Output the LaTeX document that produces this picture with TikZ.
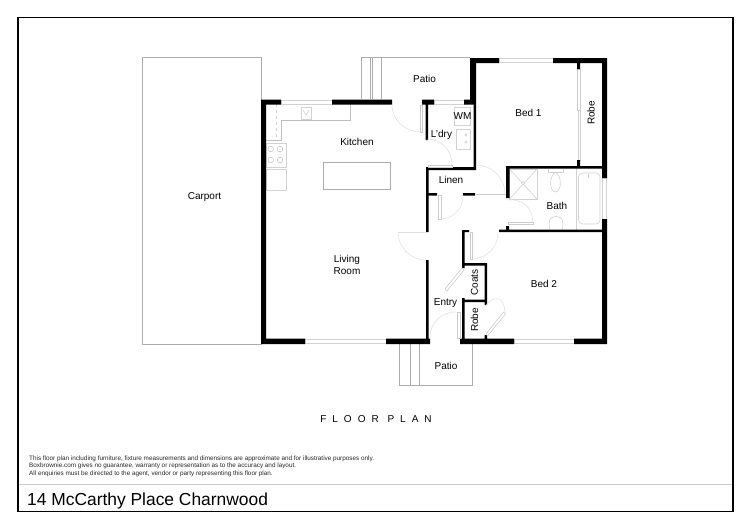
\documentclass[tikz,border=0pt]{standalone}
\usepackage{fontspec}
\setmainfont{Liberation Sans}
\newcommand\qarc[6]{\draw[doorarc] (#1,#2) .. controls ({#1+.552*(#3-#5)},{#2+.552*(#4-#6)}) and ({#3+.552*(#1-#5)},{#4+.552*(#2-#6)}) .. (#3,#4);}
\tikzset{
 wallfill/.style={fill=black},
 outline/.style={draw=gray!65,line width=.6pt},
 fixture/.style={draw=gray!35,line width=.6pt},
 doorarc/.style={draw=gray!25,line width=.5pt},
 panel/.style={draw=gray!40,fill=white,line width=.6pt},
 win/.style={draw=gray!35,fill=white,line width=.5pt},
 lbl/.style={inner sep=0pt,font=\fontsize{10}{12}\selectfont,align=center},
}
\begin{document}
\begin{tikzpicture}[x=1pt,y=-1pt]
\useasboundingbox (0,0) rectangle (750,530);
\fill[white] (0,0) rectangle (750,530);
% frame
\draw[black,line width=1.2pt] (18,17.5) rectangle (733,511.5);
\draw[gray!40,line width=1pt] (19,484) -- (732,484);
% carport and patios
\draw[outline] (142.5,57) rectangle (261,344);
\draw[outline] (361.5,99) -- (361.5,57) -- (470,57);
\draw[outline] (370.5,57) -- (370.5,99) (372,57) -- (372,99) (381,57) -- (381,99);
\draw[outline] (399,344) -- (399,385) -- (472,385) -- (472,344);
\draw[outline] (410,344) -- (410,385) (419,344) -- (419,385);
% kitchen fixtures
\draw[fixture,draw=gray!50] (266,140) -- (281,140) -- (281,120) -- (350,120) -- (350,104);
\draw[fixture,dashed] (276,104) -- (276,140);
\draw[fixture] (301,107) rectangle (311.5,119);
\draw[fixture] (303,110) -- (306,115) -- (309,110);
\draw[fixture] (266,143) rectangle (286,167);
\foreach \cx/\cy in {270.7/149,280/149,270.7/160,280/160}
  \draw[gray!50,line width=.5pt] (\cx,\cy) circle (2.8);
\draw[fixture] (266,169) rectangle (286,190);
\draw[outline] (323,162) rectangle (390,189);
% laundry fixtures
\draw[fixture] (454,107) rectangle (470,125);
\draw[fixture] (456,129) rectangle (470,149);
\draw[fixture] (466,135) circle (1.2) (466,142) circle (1.2);
% bath fixtures
\draw[fixture] (509.5,169) rectangle (537,199);
\draw[fixture] (509.5,169) -- (537,199) (537,169) -- (509.5,199);
\draw[fixture,fill=white] (523,183) circle (1.6);
\draw[fixture] (548,168.5) -- (548,172) -- (563,172) -- (563,168.5);
\draw[fixture] (555.5,172) .. controls (549,176) and (549,191) .. (555.5,192) .. controls (562,191) and (562,176) .. (555.5,172);
\draw[fixture] (550,229.5) .. controls (547,219) and (552,216.5) .. (556,216.5) .. controls (560,216.5) and (565,219) .. (562,229.5);
\draw[fixture] (576,168) -- (576,230);
\draw[fixture,rounded corners=4pt] (578.5,173) rectangle (600,224);
\draw[fixture] (588,174) -- (588,178);
% robe sliding doors
\draw[panel] (577.5,69) rectangle (580,110);
\draw[panel] (578,110) rectangle (580.5,160);
% windows
\draw[win] (281,100) rectangle (332,104);
\draw[win] (434,100) rectangle (464,104);
\draw[win] (499,58.5) rectangle (553,62.5);
\draw[win] (602.5,178) rectangle (606.5,219);
\draw[win] (305,339) rectangle (386,343.5);
\draw[win] (514,339) rectangle (574,343.5);
% walls
\fill[wallfill]
 (261,99.5) rectangle (266,344)
 (261,99.5) rectangle (281,104.5)
 (332,99.5) rectangle (392,104.5)
 (422,99.5) rectangle (434,104.5)
 (464,99.5) rectangle (476,104.5)
 (470,58) rectangle (476,104.5)
 (473.5,100) rectangle (476,170)
 (470,58) rectangle (499,63)
 (553,58) rectangle (607,63)
 (602,58) rectangle (607,178)
 (602,219) rectangle (607,344)
 (577,63) rectangle (580,69)
 (577,160) rectangle (580,167)
 (506,166) rectangle (607,168.5)
 (506,166) rectangle (509.5,198)
 (506,226) rectangle (509,232)
 (499,229.5) rectangle (602,232)
 (425.5,104) rectangle (428,140)
 (426,167) rectangle (476,170)
 (426,167) rectangle (428.5,232)
 (426,193) rectangle (437,195.5)
 (463,193) rectangle (475,195.5)
 (426,260) rectangle (428.5,339)
 (462,230) rectangle (469,232)
 (462,230) rectangle (464.5,268)
 (462,298) rectangle (464.5,344)
 (462,263) rectangle (487,265.5)
 (484.5,263) rectangle (487,305)
 (462,299.5) rectangle (487,302)
 (484.5,335) rectangle (487,344)
 (261,338.5) rectangle (305,344)
 (386,338.5) rectangle (430,344)
 (460,338.5) rectangle (514,344)
 (574,338.5) rectangle (607,344);
% doors
\qarc{392}{104}{421}{132}{422}{104}
\draw[panel] (420,105) rectangle (422,132);
\qarc{427}{139}{452}{165}{426}{165}
\draw[panel] (428.5,165) rectangle (452,167);
\qarc{476}{165}{505}{194}{476}{194}
\draw[panel] (476,194.5) -- (506,194.5);
\qarc{463}{195}{440}{219}{439}{195}
\draw[panel] (438,195.5) rectangle (441,219);
\qarc{507}{200}{533}{222}{507}{226}
\draw[panel] (508,222) rectangle (533,224.5);
\qarc{498}{231}{472}{259}{470}{232}
\draw[panel] (470,232) rectangle (472.5,259);
\qarc{398}{232}{426}{260}{426}{232}
\draw[doorarc] (398,232) -- (426,232);
\qarc{430}{338}{457}{312}{458}{339}
\draw[panel] (457,312) rectangle (460,338.5);
\draw[panel] (462,268) -- (464,270) -- (447,291) -- (445,289) -- cycle;
\qarc{485}{306}{505}{313}{486}{335}
\draw[panel] (486,334) -- (487.5,336) -- (505.5,314) -- (503.5,312) -- cycle;
% labels
\node[lbl] (patioA) at (424.5,79) {Patio};
\node[lbl] (bedA) at (528.5,113) {Bed 1};
\node[lbl,rotate=90] (robeA) at (591,113) {Robe};
\node[lbl] (wm) at (462.5,116) {WM};
\node[lbl] (ldry) at (441.5,134.5) {L'dry};
\node[lbl] (kitchen) at (357,142) {Kitchen};
\node[lbl] (linen) at (451,180) {Linen};
\node[lbl] (bath) at (557,206) {Bath};
\node[lbl] (carport) at (204.5,197) {Carport};
\node[lbl] (living) at (347,264.5) {Living\\Room};
\node[lbl,rotate=90] (coats) at (474.5,282.5) {Coats};
\node[lbl,rotate=90] (robeB) at (474.5,320) {Robe};
\node[lbl] (entry) at (445.5,303) {Entry};
\node[lbl] (bedB) at (544,284) {Bed 2};
\node[lbl] (patioB) at (446,365.5) {Patio};
\node[lbl,font=\fontsize{10}{12}\selectfont\addfontfeature{LetterSpace=60}] (fp) at (376,419.5) {FLOOR PLAN};
\node[anchor=north west,inner sep=0pt,align=left,text=black!85,font=\fontsize{6.36}{7.6}\selectfont] (note) at (29,455.5) {This floor plan including furniture, fixture measurements and dimensions are approximate and for illustrative purposes only.\\Boxbrownie.com gives no guarantee, warranty or representation as to the accuracy and layout.\\All enquiries must be directed to the agent, vendor or party representing this floor plan.};
\node[anchor=base west,inner sep=0pt,font=\fontsize{17.4}{20}\selectfont] (title) at (27,505) {14 McCarthy Place Charnwood};
\end{tikzpicture}
\end{document}
